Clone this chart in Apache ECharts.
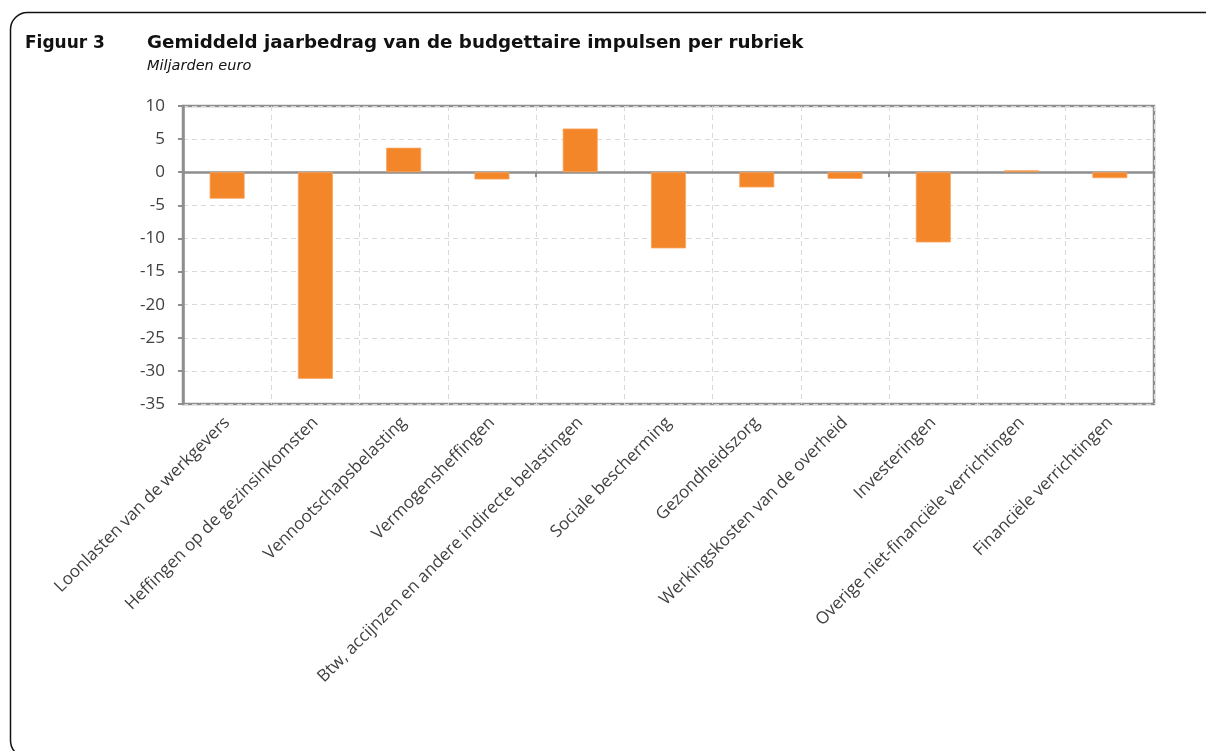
<!DOCTYPE html>
<html>
<head>
<meta charset="utf-8">
<script src="https://cdn.jsdelivr.net/npm/echarts@6/dist/echarts.min.js"></script>
<style>
  html, body { margin: 0; padding: 0; background: #ffffff; }
  #chart { width: 1206px; height: 751px; }
</style>
</head>
<body>
<div id="chart"></div>
<script>
// Budgettaire impulsen per rubriek (miljarden euro, gemiddeld per jaar)
const categories = [
  'Loonlasten van de werkgevers',
  'Heffingen op de gezinsinkomsten',
  'Vennootschapsbelasting',
  'Vermogensheffingen',
  'Btw, accijnzen en andere indirecte belastingen',
  'Sociale bescherming',
  'Gezondheidszorg',
  'Werkingskosten van de overheid',
  'Investeringen',
  'Overige niet-financiële verrichtingen',
  'Financiële verrichtingen'
];
const values = [-4.0, -31.2, 3.7, -1.1, 6.6, -11.5, -2.3, -1.0, -10.6, 0.3, -0.9];
const yTicks = { min: -35, max: 10, step: 5 };

const figureLabel = 'Figuur 3';
const titleText = 'Gemiddeld jaarbedrag van de budgettaire impulsen per rubriek';
const unitText = 'Miljarden euro';

const axisGrey = '#8e8e8e';
const gridGrey = '#d9d9d9';
const textGrey = '#404040';
const barOrange = '#F4862A';

const chart = echarts.init(document.getElementById('chart'), null, { renderer: 'canvas' });

chart.setOption({
  animation: false,
  backgroundColor: '#ffffff',
  graphic: [
    {
      type: 'rect',
      shape: { x: 10.5, y: 12.5, width: 1300, height: 745, r: 17 },
      style: { fill: 'none', stroke: '#111111', lineWidth: 1.5 },
      silent: true
    },
    {
      type: 'text',
      left: 25, top: 35,
      style: { text: figureLabel, font: 'bold 17px "DejaVu Sans"', fill: '#111111' }
    },
    {
      type: 'text',
      left: 147, top: 34,
      style: { text: titleText, font: 'bold 18.3px "DejaVu Sans"', fill: '#111111' }
    },
    {
      type: 'text',
      left: 147, top: 59,
      style: { text: unitText, font: 'italic 14.5px "DejaVu Sans"', fill: '#111111' }
    }
  ],
  grid: {
    left: 183, right: 52, top: 106, bottom: 347,
    show: true,
    borderColor: axisGrey,
    borderWidth: 2.5,
    containLabel: false
  },
  xAxis: [
    {
      type: 'category',
      data: categories,
      position: 'bottom',
      axisLine: { onZero: false, show: false },
      axisTick: { show: false },
      splitLine: { show: true, lineStyle: { color: gridGrey, type: [5, 4], width: 1 } },
      axisLabel: {
        rotate: 45,
        interval: 0,
        margin: 16,
        color: textGrey,
        fontFamily: 'Open Sans',
        fontSize: 17
      }
    },
    {
      type: 'category',
      data: categories,
      position: 'bottom',
      axisLine: { onZero: true, lineStyle: { color: axisGrey, width: 2.5 } },
      axisTick: { show: true, length: 5, lineStyle: { color: axisGrey, width: 2 } },
      axisLabel: { show: false },
      splitLine: { show: false }
    }
  ],
  yAxis: {
    type: 'value',
    min: yTicks.min,
    max: yTicks.max,
    interval: yTicks.step,
    axisLine: { show: true, lineStyle: { color: axisGrey, width: 2.5 } },
    axisTick: { show: true, length: 5, lineStyle: { color: axisGrey, width: 2 } },
    splitLine: { show: true, lineStyle: { color: gridGrey, type: [5, 4], width: 1 } },
    axisLabel: {
      margin: 18,
      color: textGrey,
      fontFamily: 'Open Sans',
      fontSize: 17
    }
  },
  series: [
    {
      type: 'bar',
      xAxisIndex: 1,
      data: values,
      barWidth: 35,
      itemStyle: { color: barOrange, borderColor: '#F9A45E', borderWidth: 0.8 },
      z: 3
    }
  ]
});
</script>
</body>
</html>
